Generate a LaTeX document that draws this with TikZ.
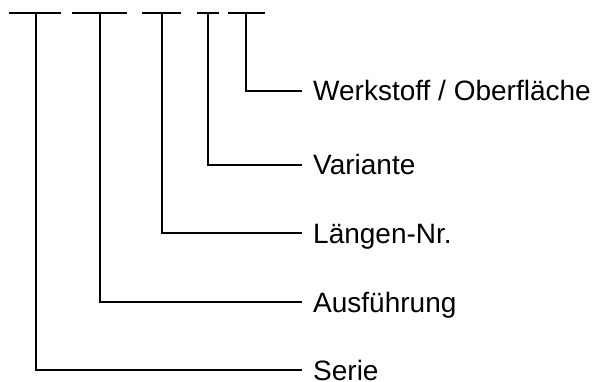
\documentclass[tikz,border=0pt]{standalone}
\usepackage{fontspec}
\setmainfont{Liberation Sans}
\usepackage{tikz}
\usetikzlibrary{positioning,calc}

\begin{document}
\begin{tikzpicture}[
  x=1pt, y=-1pt,
  every node/.style={anchor=west, inner xsep=11pt, inner ysep=0pt, text height=20pt, text depth=0pt, font=\fontsize{28}{32}\selectfont},
  key/.style={line width=2pt},
  lead/.style={line width=2pt}
]
\useasboundingbox (0,0) rectangle (607,382);

\node (serie) at (302,370) {Serie};
\node (ausf)  at (302,302) {Ausführung};
\node (laenge) at (302,233) {Längen-Nr.};
\node (var)   at (302,165) {Variante};
\node (werk)  at (302,91)  {Werkstoff / Oberfläche};

% one short bar per code position, then a drop and a leader to its label
\foreach \k/\x in {kS/36, kA/100, kL/162, kV/208, kW/246}
  \coordinate (\k) at (\x,13);
\foreach \k/\l/\r in {kS/-27/25, kA/-28/27, kL/-20/19, kV/-11/11, kW/-18/19}
  \draw[key] ([xshift=\l pt]\k) -- ([xshift=\r pt]\k);

\foreach \k/\t in {kS/serie, kA/ausf, kL/laenge, kV/var, kW/werk}
  \draw[lead] (\k) |- (\t.west);
\end{tikzpicture}
\end{document}
